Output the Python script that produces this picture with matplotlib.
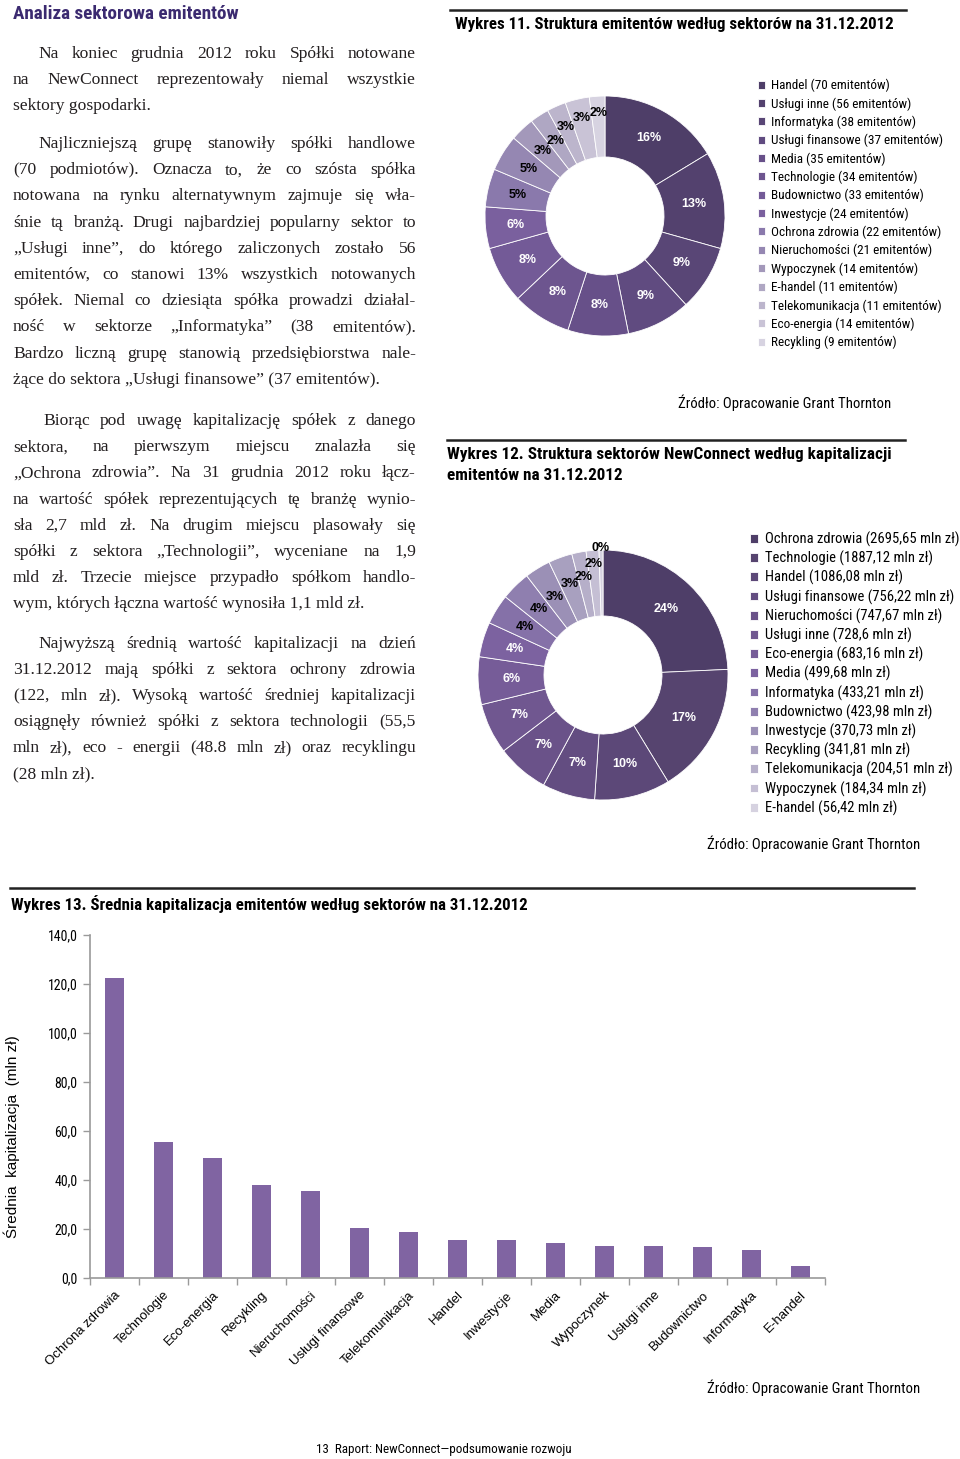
import matplotlib
matplotlib.use("Agg")
import matplotlib.pyplot as plt
from matplotlib import font_manager as fm
from matplotlib.lines import Line2D
from matplotlib.ticker import FuncFormatter, FixedLocator
import numpy as np

W, H = 960, 1459

# --- data -------------------------------------------------------------
sectors_count = ["Handel", "Usługi inne", "Informatyka", "Usługi finansowe", "Media",
                 "Technologie", "Budownictwo", "Inwestycje", "Ochrona zdrowia",
                 "Nieruchomości", "Wypoczynek", "E-handel", "Telekomunikacja",
                 "Eco-energia", "Recykling"]
count_values = [70, 56, 38, 37, 35, 34, 33, 24, 22, 21, 14, 11, 11, 14, 9]
count_pct_labels = ["16%", "13%", "9%", "9%", "8%", "8%", "8%", "6%", "5%", "5%",
                    "3%", "2%", "3%", "3%", "2%"]

sectors_cap = ["Ochrona zdrowia", "Technologie", "Handel", "Usługi finansowe",
               "Nieruchomości", "Usługi inne", "Eco-energia", "Media", "Informatyka",
               "Budownictwo", "Inwestycje", "Recykling", "Telekomunikacja",
               "Wypoczynek", "E-handel"]
cap_values = [2695.65, 1887.12, 1086.08, 756.22, 747.67, 728.6, 683.16, 499.68,
              433.21, 423.98, 370.73, 341.81, 204.51, 184.34, 56.42]
cap_pct_labels = ["24%", "17%", "10%", "7%", "7%", "7%", "6%", "4%", "4%", "4%",
                  "3%", "3%", "2%", "2%", "0%"]

sectors_avg = ["Ochrona zdrowia", "Technologie", "Eco-energia", "Recykling",
               "Nieruchomości", "Usługi finansowe", "Telekomunikacja", "Handel",
               "Inwestycje", "Media", "Wypoczynek", "Usługi inne", "Budownictwo",
               "Informatyka", "E-handel"]
avg_values = [122.5, 55.5, 48.8, 38.0, 35.6, 20.4, 18.6, 15.5, 15.4, 14.3, 13.2,
              13.0, 12.8, 11.4, 5.1]

para1 = ["Na koniec grudnia 2012 roku Spółki notowane",
         "na NewConnect reprezentowały niemal wszystkie",
         "sektory gospodarki."]
para2 = ["Najliczniejszą grupę stanowiły spółki handlowe",
         "(70 podmiotów). Oznacza to, że co szósta spółka",
         "notowana na rynku alternatywnym zajmuje się wła-",
         "śnie tą branżą. Drugi najbardziej popularny sektor to",
         "„Usługi inne”, do którego zaliczonych zostało 56",
         "emitentów, co stanowi 13% wszystkich notowanych",
         "spółek. Niemal co dziesiąta spółka prowadzi działal-",
         "ność w sektorze „Informatyka” (38 emitentów).",
         "Bardzo liczną grupę stanowią przedsiębiorstwa nale-",
         "żące do sektora „Usługi finansowe” (37 emitentów)."]
para3 = ["Biorąc pod uwagę kapitalizację spółek z danego",
         "sektora, na pierwszym miejscu znalazła się",
         "„Ochrona zdrowia”. Na 31 grudnia 2012 roku łącz-",
         "na wartość spółek reprezentujących tę branżę wynio-",
         "sła 2,7 mld zł. Na drugim miejscu plasowały się",
         "spółki z sektora „Technologii”, wyceniane na 1,9",
         "mld zł. Trzecie miejsce przypadło spółkom handlo-",
         "wym, których łączna wartość wynosiła 1,1 mld zł."]
para4 = ["Najwyższą średnią wartość kapitalizacji na dzień",
         "31.12.2012 mają spółki z sektora ochrony zdrowia",
         "(122, mln zł). Wysoką wartość średniej kapitalizacji",
         "osiągnęły również spółki z sektora technologii (55,5",
         "mln zł), eco - energii (48.8 mln zł)  oraz recyklingu",
         "(28 mln zł)."]

colors1 = ['#4e3e68', '#53416e', '#594676', '#604b80', '#675089', '#6d558f',
           '#735a97', '#7a609e', '#8a79ac', '#9587b2', '#a398ba', '#afa7c3',
           '#bcb5cc', '#c9c3d6', '#d7d3e1']
colors2 = ['#4e3e68', '#56446f', '#5c4878', '#634d81', '#6a5289', '#705790',
           '#765c98', '#7c62a0', '#8571a8', '#8f7faf', '#9b90b6', '#a8a0bf',
           '#b6afc9', '#c5bfd4', '#d6d2e0']

# --- fonts ------------------------------------------------------------
names = {f.name for f in fm.fontManager.ttflist}
NARROW = None
for cand in ["Liberation Sans Narrow", "Arial Narrow", "Roboto Condensed",
             "Noto Sans Condensed", "Open Sans Condensed", "Noto Sans SemiCondensed"]:
    if cand in names:
        NARROW = dict(family=cand)
        break
if NARROW is None:
    p = fm.findfont(fm.FontProperties(family="DejaVu Sans", stretch="condensed"))
    if "Condensed" in p:
        NARROW = dict(family="DejaVu Sans", stretch="condensed")
    else:
        NARROW = dict(family="Liberation Sans")
SERIF = "Liberation Serif"
SANS = "Liberation Sans"

fig = plt.figure(figsize=(W / 100, H / 100), dpi=100)
renderer = fig.canvas.get_renderer()


def fx(x):
    return x / W


def fy(y):
    return 1 - y / H


def T(x, y, s, **kw):
    return fig.text(fx(x), fy(y), s, **kw)


def fit_size(s, target, **kw):
    t = fig.text(0, 0, s, fontsize=10, **kw)
    w = t.get_window_extent(renderer=renderer).width
    t.remove()
    return 10 * target / w


def FT(x, y, s, target, **kw):
    # text scaled so that its width matches the reference
    return T(x, y, s, fontsize=fit_size(s, target, **kw), **kw)


def hline(x0, x1, y, lw=1.8):
    fig.add_artist(Line2D([fx(x0), fx(x1)], [fy(y), fy(y)], color="#222222",
                          lw=lw, transform=fig.transFigure))


# --- justified body text ----------------------------------------------
BODY = dict(family=SERIF, fontsize=12.6, color="#231f20", va="baseline")


def justify(line, x0, x1, y, last=False):
    words = line.split()
    if last:
        T(x0, y, " ".join(words), **BODY)
        return
    texts = [T(0, y, w, **BODY) for w in words]
    widths = [t.get_window_extent(renderer=renderer).width for t in texts]
    gap = (x1 - x0 - sum(widths)) / max(len(words) - 1, 1)
    x = x0
    for t, w in zip(texts, widths):
        t.set_x(fx(x))
        x += w + gap


def paragraph(lines, y0, step, indent, left=13, right=416):
    for i, ln in enumerate(lines):
        justify(ln, indent if i == 0 else left, right, y0 + i * step,
                last=(i == len(lines) - 1))


FT(13, 14, "Analiza sektorowa emitentów", 225, fontweight="bold",
   color="#3b2a70", va="center", **NARROW)
paragraph(para1, 58, 26.1, 38)
paragraph(para2, 148, 26.2, 38)
paragraph(para3, 425, 26.2, 43)
paragraph(para4, 648, 26.0, 38)


# --- donuts -----------------------------------------------------------
def donut(values, colors, pct_labels, cx, cy, r_out, r_in, n_white, radii):
    ax = fig.add_axes([fx(cx - r_out), fy(cy + r_out), 2 * r_out / W, 2 * r_out / H])
    width = 1 - r_in / r_out
    wedges, _ = ax.pie(values, colors=colors, startangle=90, counterclock=False,
                       radius=1, wedgeprops=dict(width=width, edgecolor="white",
                                                 linewidth=0.6))
    rm = 1 - width / 2
    for i, (w, lab) in enumerate(zip(wedges, pct_labels)):
        ang = np.deg2rad((w.theta1 + w.theta2) / 2)
        rr = radii.get(i, rm * r_out) / r_out
        ax.text(rr * np.cos(ang), rr * np.sin(ang), lab, ha="center", va="center",
                fontsize=9, fontweight="bold", family=SANS,
                color="white" if i < n_white else "black")
    ax.set_xlim(-1, 1)
    ax.set_ylim(-1, 1)
    ax.axis("off")
    return wedges


def legend(handles, labels, x, y_first, step, sample, target):
    fs = fit_size(sample, target, **NARROW)
    fs_px = fs * 100 / 72
    ls = 0.3
    for _ in range(3):
        leg = fig.legend(handles, labels, loc="upper left",
                         bbox_to_anchor=(fx(x), fy(y_first - fs_px * 0.6)),
                         frameon=False, prop=dict(size=fs, **NARROW),
                         handlelength=0.55, handleheight=0.55, handletextpad=0.45,
                         labelspacing=ls, borderpad=0, borderaxespad=0)
        fig.canvas.draw()
        ys = [t.get_window_extent(renderer=renderer) for t in leg.get_texts()]
        step_now = ((ys[0].y0 + ys[0].y1) - (ys[-1].y0 + ys[-1].y1)) / 2 / (len(ys) - 1)
        shift = (H - (ys[0].y0 + ys[0].y1) / 2) - y_first
        if abs(step_now - step) < 0.1 and abs(shift) < 0.5:
            return leg
        leg.remove()
        ls += (step - step_now) / fs_px
        y_first = y_first - shift
    return fig.legend(handles, labels, loc="upper left",
                      bbox_to_anchor=(fx(x), fy(y_first - fs_px * 0.6)),
                      frameon=False, prop=dict(size=fs, **NARROW),
                      handlelength=0.55, handleheight=0.55, handletextpad=0.45,
                      labelspacing=ls, borderpad=0, borderaxespad=0)


hline(450, 906, 10)
FT(455, 25, "Wykres 11. Struktura emitentów według sektorów na 31.12.2012", 440,
   fontweight="bold", va="center", **NARROW)
w1 = donut(count_values, colors1, count_pct_labels, 605, 216, 120, 59, 8,
           {12: 97, 13: 101, 14: 103})
leg_labels1 = [f"{s} ({v} emitentów)" for s, v in zip(sectors_count, count_values)]
legend(w1, leg_labels1, 758, 83, 18.36, leg_labels1[3], 172)
FT(678, 403, "Źródło: Opracowanie Grant Thornton", 211, va="center", **NARROW)

hline(447, 905, 440)
title12 = "Wykres 12. Struktura sektorów NewConnect według kapitalizacji"
FT(447, 455, title12, 443, fontweight="bold", va="center", **NARROW)
T(447, 476, "emitentów na 31.12.2012",
  fontsize=fit_size(title12, 443, fontweight="bold", **NARROW),
  fontweight="bold", va="center", **NARROW)
w2 = donut(cap_values, colors2, cap_pct_labels, 603, 675, 125, 59, 8,
           {11: 97, 12: 100, 13: 111, 14: 127})
leg_labels2 = [f"{s} ({v:g} mln zł)".replace(".", ",") for s, v in zip(sectors_cap, cap_values)]
legend(w2, leg_labels2, 750, 537, 19.2, leg_labels2[0], 194)
FT(707, 844, "Źródło: Opracowanie Grant Thornton", 211, va="center", **NARROW)

# --- bar chart --------------------------------------------------------
hline(10, 914, 888)
FT(11, 904, "Wykres 13. Średnia kapitalizacja emitentów według sektorów na 31.12.2012",
   517, fontweight="bold", va="center", **NARROW)

ax = fig.add_axes([fx(90), fy(1278), 735 / W, (1278 - 935) / H])
x = np.arange(len(sectors_avg))
ax.bar(x, avg_values, width=0.4, color="#8064a2")
ax.set_xlim(-0.5, len(sectors_avg) - 0.5)
ax.set_ylim(0, 140)
ax.set_yticks(np.arange(0, 141, 20))
ax.yaxis.set_major_formatter(FuncFormatter(lambda v, p: f"{v:.1f}".replace(".", ",")))
ax.set_xticks(x)
ax.set_xticklabels(sectors_avg, rotation=45, ha="right", rotation_mode="anchor",
                   fontsize=9.5, family=SANS)
ax.xaxis.set_minor_locator(FixedLocator(np.arange(-0.5, len(sectors_avg), 1)))
ax.tick_params(axis="x", which="major", length=0, pad=8)
ax.tick_params(axis="x", which="minor", length=5, color="#9a9a9a", width=1)
ax.tick_params(axis="y", length=5, color="#9a9a9a", width=1, pad=4)
ytick_fs = fit_size("140,0", 30, **NARROW)
for lab in ax.get_yticklabels():
    lab.set_fontsize(ytick_fs)
    lab.set_fontfamily(NARROW["family"])
    if "stretch" in NARROW:
        lab.set_fontstretch(NARROW["stretch"])
for s in ["top", "right"]:
    ax.spines[s].set_visible(False)
for s in ["left", "bottom"]:
    ax.spines[s].set_color("#9a9a9a")
    ax.spines[s].set_linewidth(1.2)
fig.text(fx(12), fy(1137), "Średnia  kapitalizacja  (mln zł)", rotation=90,
         ha="center", va="center", fontsize=11, family=SANS)

FT(707, 1388, "Źródło: Opracowanie Grant Thornton", 211, va="center", **NARROW)
FT(316, 1449, "13  Raport: NewConnect—podsumowanie rozwoju", 252, va="center", **NARROW)

fig.savefig("out.png", dpi=100)
